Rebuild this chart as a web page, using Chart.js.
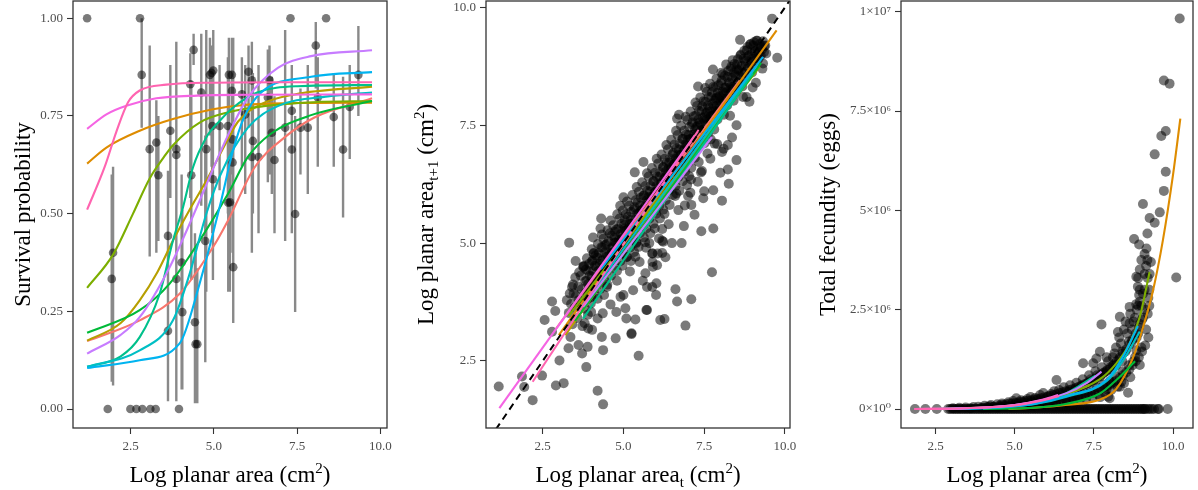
<!DOCTYPE html>
<html>
<head>
<meta charset="utf-8">
<script src="https://cdn.jsdelivr.net/npm/chart.js@4.4.1/dist/chart.umd.min.js"></script>
<style>
  html, body { margin: 0; padding: 0; background: #fff; }
  #wrap { position: relative; width: 1198px; height: 490px; }
  canvas { position: absolute; top: 0; }
</style>
</head>
<body>
<div id="wrap">
  <canvas id="survChart" width="400" height="490" style="left:0"></canvas>
  <canvas id="growChart" width="400" height="490" style="left:400px"></canvas>
  <canvas id="fecChart" width="398" height="490" style="left:800px"></canvas>
</div>
<script>
// ---- data ----

// panel 1: survival, [log area, proportion surviving, lower, upper]
const survPts = [
  [1.19,1.0,1.0,1.0],[2.78,1.0,1.0,1.0],[2.83,0.855,0.72,1.0],[7.3,1.0,1.0,1.0],[8.37,1.0,1.0,1.0],
  [1.81,0,0,0],[2.49,0,0,0],[2.67,0,0,0],[2.85,0,0,0],[3.09,0,0,0],[3.25,0,0,0],[3.95,0,0,0],
  [1.97,0.40,0.06,0.62],[1.93,0.333,0.07,0.6],[3.07,0.665,0.39,0.93],[3.27,0.682,0.40,0.79],
  [3.33,0.598,0.43,0.75],[3.69,0.712,0.54,0.88],[3.62,0.443,0.02,0.61],[3.62,0.20,0.03,0.45],
  [3.87,0.665,0.35,0.94],[3.87,0.65,0.4,0.9],[3.87,0.333,0.02,0.55],[4.03,0.375,0.05,0.6],
  [4.05,0.248,0.05,0.51],[4.29,0.831,0.54,0.91],[4.39,0.919,0.88,0.96],[4.32,0.598,0.33,0.84],
  [4.43,0.222,0.015,0.45],[4.45,0.166,0.015,0.40],[4.50,0.166,0.015,0.36],[4.62,0.81,0.52,0.96],
  [4.77,0.665,0.30,0.97],[4.74,0.43,0.12,0.7],[4.88,0.855,0.7,0.95],[4.93,0.86,0.62,0.93],
  [4.98,0.866,0.72,0.97],[4.95,0.724,0.45,0.9],[4.97,0.588,0.33,0.8],[5.17,0.724,0.56,0.88],
  [5.42,0.724,0.5,0.9],[5.45,0.855,0.62,0.95],[5.58,0.363,0.22,0.95],[5.43,0.528,0.3,0.75],
  [5.54,0.855,0.67,0.95],[5.54,0.814,0.6,0.93],[5.56,0.69,0.45,0.85],[5.56,0.631,0.4,0.82],
  [5.48,0.529,0.3,0.7],[5.84,0.805,0.62,0.9],[5.94,0.754,0.55,0.88],[6.04,0.863,0.72,0.93],
  [6.14,0.841,0.58,0.94],[6.17,0.686,0.5,0.86],[6.14,0.645,0.4,0.85],[6.34,0.645,0.45,0.88],
  [6.62,0.797,0.58,0.92],[6.67,0.842,0.6,0.93],[6.74,0.707,0.55,0.85],[6.82,0.637,0.45,0.8],
  [7.14,0.72,0.43,0.97],[7.34,0.763,0.5,0.88],[7.34,0.664,0.45,0.85],[7.44,0.499,0.248,0.75],
  [7.6,0.72,0.6,0.82],[7.82,0.72,0.55,0.88],[8.06,0.93,0.82,0.99],[8.12,0.797,0.62,0.9],
  [8.6,0.747,0.62,0.86],[8.88,0.664,0.49,0.85],[9.08,0.773,0.64,0.88],[9.34,0.855,0.75,0.98]
];

// fitted survival curves, one per group
const survGroups = ['salmon','orange','olive','ygreen','green','teal','cyan','sky','purple','magenta','pink'];
const survCurves = [
  [[1.19,0.174],[2.77,0.227],[3.97,0.295],[4.97,0.414],[5.42,0.482],[6.22,0.618],[7.12,0.695],[8.02,0.746],[9.75,0.795]],
  [[1.19,0.628],[1.77,0.669],[2.77,0.712],[3.77,0.742],[4.97,0.767],[5.9,0.778],[7.5,0.783],[9.75,0.784]],
  [[1.19,0.175],[2.2,0.22],[2.77,0.278],[3.3,0.35],[3.77,0.431],[4.27,0.51],[4.77,0.584],[5.42,0.69],[5.72,0.735],[6.42,0.78],[7.42,0.805],[9.75,0.825]],
  [[1.19,0.31],[1.97,0.395],[2.57,0.5],[3.07,0.59],[3.5,0.645],[3.77,0.675],[4.57,0.733],[5.47,0.76],[6.5,0.775],[8,0.785],[9.75,0.788]],
  [[1.19,0.195],[2.77,0.253],[3.67,0.321],[4.57,0.431],[5.42,0.55],[6.02,0.645],[6.72,0.705],[7.92,0.752],[9.75,0.788]],
  [[1.19,0.108],[2.2,0.135],[2.77,0.184],[3.37,0.295],[3.77,0.431],[4.07,0.516],[4.37,0.618],[4.77,0.695],[5.17,0.737],[5.57,0.771],[6.3,0.81],[7.5,0.826],[9.75,0.829]],
  [[1.19,0.108],[2.77,0.15],[3.77,0.227],[4.27,0.346],[4.77,0.499],[5.2,0.6],[6.02,0.72],[6.92,0.775],[8.42,0.8],[9.75,0.81]],
  [[1.19,0.105],[2.77,0.125],[3.97,0.168],[4.57,0.321],[5.17,0.516],[5.57,0.66],[5.9,0.745],[6.42,0.81],[7.92,0.85],[9.75,0.862]],
  [[1.19,0.142],[2.2,0.19],[2.77,0.235],[3.67,0.363],[4.57,0.533],[5.0,0.62],[5.42,0.7],[6.02,0.797],[6.92,0.873],[7.92,0.903],[9.75,0.918]],
  [[1.19,0.717],[1.77,0.754],[2.37,0.776],[3.27,0.795],[4.5,0.802],[6,0.804],[9.75,0.805]],
  [[1.19,0.51],[1.72,0.62],[2.07,0.71],[2.42,0.785],[2.77,0.815],[3.57,0.83],[5,0.835],[7,0.836],[9.75,0.836]]
];

// panel 2: growth, [log area t, log area t+1]
const growSparse = [
  [1.14,1.96],[1.86,2.17],[1.93,1.95],[2.19,1.67],[2.48,2.19],[2.56,3.37],[2.79,3.12],[2.79,3.76],[2.89,3.56],
  [2.91,1.98],[3.15,2.03],[3.02,2.51],[3.25,3.79],[3.30,2.77],[3.36,3.01],[3.41,4.07],[3.46,3.93],[3.61,2.84],
  [3.72,2.66],[3.75,4.5],[3.85,2.37],[3.89,2.80],[3.91,3.19],[4.03,3.16],[4.0,3.54],[4.08,4.78],[4.2,1.87],
  [4.33,3.01],[4.37,1.58],[4.37,2.73],[4.36,3.51],[4.49,4.07],[4.76,2.98],[4.78,3.54],[4.91,3.86],[5.09,3.4],
  [5.06,3.62],[5.25,3.07],[5.37,3.38],[5.47,2.61],[5.73,3.58],[5.89,4.07],[6.01,3.9],[5.91,4.5],[6.04,4.53],
  [6.14,3.37],[6.27,3.39],[6.06,4.78],[6.23,5.03],[6.61,4.02],[6.66,3.76],[6.92,3.25],[7.1,3.81],[7.74,4.38],
  [5.73,4.07],[5.68,4.36],[6.02,4.15],[5.35,6.5],[3.32,5.01],[4.06,5.12],[3.77,4.5],[5.0,5.97],[5.25,3.09],
  [5.9,4.78],[5.71,3.58],[9.6,9.76],[9.76,8.93],[9.32,8.81],[8.81,8.1],[7.77,8.68],[8.36,7.24],[8.23,7.08],
  [8.05,6.93],[7.82,7.11],[7.69,6.79],[8.5,6.76],[8.0,6.49],[8.23,6.56],[8.26,6.26],[7.43,6.53],[7.09,6.35],
  [7.78,6.12],[7.47,5.95],[8.05,5.9],[7.1,5.81],[6.87,5.36],[7.41,5.25],[7.78,5.31],[6.2,5.05],[6.2,4.79],
  [5.89,4.78],[7.07,6.07],[6.97,6.23],[6.64,6.05],[4.29,5.31],[6.66,7.64],[3.52,4.62],[4.31,5.52],[5.62,6.72],
  [6.72,7.72],[7.31,8.32],[8.61,9.31]
];
const growHalo = [
  [4.6,3.7],[4.8,4.2],[5.0,3.9],[5.2,4.4],[5.3,4.0],[5.5,4.6],[5.6,4.2],[5.8,5.0],[5.9,4.6],[6.1,5.1],
  [6.3,4.7],[6.4,5.4],[6.5,5.0],[6.7,5.7],[6.8,5.0],[7.0,6.0],[7.2,5.6],[7.3,6.3],[7.5,6.1],[7.6,6.9],
  [7.9,7.1],[8.1,7.0],[8.3,7.7],[8.5,7.5],[8.7,8.1],[8.9,8.0],[9.1,8.4],[9.3,8.7],[9.0,8.3],[4.4,3.9],
  [4.2,3.4],[4.0,3.85],[3.8,3.3],[5.1,4.7],[5.4,5.0],[5.7,4.9],[6.0,5.7],[6.2,5.3],[6.6,6.0],[6.9,5.8],
  [7.1,6.6],[7.4,6.5],[7.7,7.2]
];
const growBand = [
  [3.31,3.52],[3.34,3.93],[3.42,3.28],[3.38,3.71],[3.44,4.12],[3.49,3.63],[3.53,3.88],[3.51,4.27],
  [3.58,3.41],[3.62,3.79],[3.6,4.08],[3.63,4.38],[3.69,3.72],[3.71,4.02],[3.68,4.31],[3.73,3.24],
  [3.79,3.92],[3.82,4.19],[3.78,4.52],[3.81,3.61],[3.88,3.81],[3.91,4.13],[3.92,4.41],[3.87,4.68],[3.9,3.48],
  [3.98,4.02],[4.01,4.29],[4.03,4.61],[3.99,3.72],[4.02,4.87],[4.09,4.18],[4.12,4.52],[4.08,4.79],[4.11,3.91],[4.1,4.04],
  [4.19,4.12],[4.22,4.41],[4.18,4.69],[4.21,4.98],[4.2,3.82],[4.29,4.32],[4.32,4.62],[4.31,4.91],[4.28,4.03],[4.33,5.18],
  [4.39,4.49],[4.42,4.79],[4.38,5.09],[4.41,4.21],[4.4,4.38],[4.49,4.41],[4.52,4.72],[4.48,4.98],[4.51,5.27],[4.5,4.12],[4.53,4.6],
  [4.59,4.62],[4.62,4.88],[4.58,5.21],[4.61,4.31],[4.6,5.48],[4.63,4.79],[4.69,4.81],[4.72,5.12],[4.68,5.38],[4.71,4.52],[4.7,4.69],[4.73,5.02],
  [4.79,4.72],[4.82,5.01],[4.78,5.29],[4.81,5.61],[4.8,4.41],[4.83,4.91],[4.89,4.88],[4.92,5.19],[4.88,5.52],[4.91,4.62],[4.9,5.79],[4.93,5.08],
  [4.99,5.11],[5.02,5.38],[4.98,5.69],[5.01,4.79],[5.0,5.02],[5.03,5.31],[4.97,4.52],
  [5.09,5.02],[5.12,5.29],[5.08,5.61],[5.11,5.88],[5.1,4.71],[5.13,5.19],
  [5.19,5.21],[5.22,5.49],[5.18,5.79],[5.21,4.91],[5.2,5.41],[5.23,4.62],[5.17,5.12],
  [5.29,5.38],[5.32,5.71],[5.28,6.02],[5.31,5.09],[5.3,5.29],[5.33,4.81],
  [5.39,5.31],[5.42,5.62],[5.38,5.91],[5.41,6.19],[5.4,5.02],[5.43,5.48],[5.37,4.71],
  [5.49,5.52],[5.52,5.79],[5.48,6.09],[5.51,5.21],[5.5,5.41],[5.53,5.68],[5.47,4.92],
  [5.59,5.71],[5.62,6.01],[5.58,6.29],[5.61,5.38],[5.6,5.62],[5.63,5.12],
  [5.69,5.62],[5.72,5.91],[5.68,6.21],[5.71,5.31],[5.7,5.79],[5.73,6.48],[5.67,5.02],
  [5.79,5.81],[5.82,6.09],[5.78,6.41],[5.81,5.52],[5.8,5.98],[5.83,5.21],
  [5.89,5.98],[5.92,6.31],[5.88,6.59],[5.91,5.69],[5.9,5.91],[5.93,5.41],
  [5.99,5.91],[6.02,6.21],[5.98,6.49],[6.01,5.62],[6.0,6.09],[6.03,6.79],[5.97,5.31],
  [6.09,6.12],[6.12,6.41],[6.08,6.69],[6.11,5.79],[6.1,6.02],[6.13,5.52],
  [6.19,6.29],[6.22,6.61],[6.18,6.88],[6.21,6.01],[6.2,6.19],[6.23,5.71],
  [6.29,6.21],[6.32,6.52],[6.28,6.79],[6.31,5.91],[6.3,6.41],[6.33,7.08],[6.27,5.62],
  [6.39,6.42],[6.42,6.71],[6.38,6.99],[6.41,6.12],[6.4,6.59],[6.43,5.81],
  [6.49,6.61],[6.52,6.88],[6.48,7.19],[6.51,6.29],[6.5,6.52],[6.53,6.02],
  [6.59,6.51],[6.62,6.79],[6.58,7.09],[6.61,6.21],[6.6,6.69],[6.63,7.38],
  [6.69,6.72],[6.72,6.98],[6.68,7.29],[6.71,6.41],[6.7,6.88],[6.73,6.11],
  [6.79,6.88],[6.82,7.21],[6.78,7.49],[6.81,6.62],[6.8,6.79],[6.83,6.31],
  [6.89,6.81],[6.92,7.09],[6.88,7.38],[6.91,6.52],[6.9,7.01],[6.93,7.68],
  [6.99,7.02],[7.02,7.29],[6.98,7.61],[7.01,6.71],[7.0,7.19],[7.03,6.42],
  [7.09,7.21],[7.12,7.52],[7.08,7.79],[7.11,6.89],[7.1,7.08],
  [7.19,7.12],[7.22,7.41],[7.18,7.69],[7.21,6.81],[7.2,7.32],[7.23,7.98],
  [7.29,7.31],[7.32,7.62],[7.28,7.91],[7.31,7.02],[7.3,7.49],[7.33,6.72],
  [7.39,7.52],[7.42,7.81],[7.38,8.09],[7.41,7.21],[7.4,7.39],
  [7.49,7.41],[7.52,7.69],[7.48,8.01],[7.51,7.12],[7.5,7.61],[7.53,8.29],
  [7.59,7.62],[7.62,7.92],[7.58,8.21],[7.61,7.31],[7.6,7.79],
  [7.69,7.79],[7.72,8.11],[7.68,8.38],[7.71,7.52],[7.7,7.69],
  [7.79,7.72],[7.82,8.02],[7.78,8.31],[7.81,7.41],[7.8,7.91],
  [7.89,7.91],[7.92,8.19],[7.88,8.49],[7.91,7.62],[7.9,8.09],
  [7.99,8.12],[8.02,8.39],[7.98,7.81],[8.01,8.01],[8.03,8.61],
  [8.09,8.02],[8.12,8.29],[8.08,8.58],[8.11,7.72],[8.1,8.19],
  [8.19,8.21],[8.22,8.52],[8.18,8.79],[8.21,7.92],[8.29,8.39],[8.32,8.69],[8.28,8.12],[8.31,8.31],
  [8.39,8.31],[8.42,8.61],[8.38,8.88],[8.41,8.02],[8.49,8.52],[8.52,8.79],[8.48,8.21],[8.51,8.69],
  [8.59,8.69],[8.62,8.98],[8.58,8.41],[8.69,8.61],[8.72,8.91],[8.68,8.32],
  [8.79,8.81],[8.82,9.09],[8.78,8.52],[8.89,8.98],[8.92,9.21],[8.88,8.71],
  [8.99,8.91],[9.02,9.19],[8.98,8.62],[9.09,9.08],[9.12,9.29],[9.08,8.81],
  [9.19,9.02],[9.22,9.22],[9.18,8.91],[9.29,9.11],[9.32,9.28],[9.39,9.19],[9.42,9.02]
];
// the darkest core of the cloud
const growCore = [
  [3.85,3.96],[3.86,4.2],[3.84,4.44],[3.95,4.05],[3.96,4.31],[3.94,4.56],[4.05,4.14],[4.06,4.41],[4.04,4.63],
  [4.15,4.26],[4.16,4.5],[4.14,4.74],[4.25,4.3],[4.26,4.56],[4.24,4.79],[4.35,4.41],[4.36,4.64],[4.34,4.9],
  [4.45,4.44],[4.46,4.71],[4.44,4.96],[4.55,4.56],[4.56,4.79],[4.54,5.04],[4.65,4.64],[4.66,4.91],[4.64,5.16],
  [4.75,4.76],[4.76,5.01],[4.74,5.24],[4.85,4.8],[4.86,5.06],[4.84,5.31],[4.95,4.9],[4.96,5.14],[4.94,5.41],
  [5.05,5.01],[5.06,5.26],[5.04,5.49],[5.15,5.06],[5.16,5.31],[5.14,5.56],[5.25,5.14],[5.26,5.41],[5.24,5.66],
  [5.35,5.26],[5.36,5.49],[5.34,5.76],[5.45,5.34],[5.46,5.61],[5.44,5.86],[5.55,5.46],[5.56,5.69],[5.54,5.96],
  [5.65,5.5],[5.66,5.76],[5.64,6.01],[5.75,5.6],[5.76,5.86],[5.74,6.11],[5.85,5.7],[5.86,5.94],[5.84,6.21],
  [5.95,5.8],[5.96,6.06],[5.94,6.31],[6.05,5.9],[6.06,6.14],[6.04,6.41],[6.15,6.0],[6.16,6.26],[6.14,6.5],
  [6.25,6.1],[6.26,6.36],[6.24,6.61],[6.35,6.2],[6.36,6.44],[6.34,6.71],[6.45,6.3],[6.46,6.56],[6.44,6.8],
  [6.55,6.4],[6.56,6.66],[6.54,6.91],[6.65,6.5],[6.66,6.74],[6.64,7.01],[6.75,6.6],[6.76,6.86],[6.74,7.1],
  [6.85,6.7],[6.86,6.96],[6.84,7.21],[6.95,6.8],[6.96,7.06],[6.94,7.3],[7.05,6.95],[7.06,7.21],[7.04,7.46],
  [7.15,7.06],[7.16,7.3],[7.14,7.56],[7.25,7.2],[7.26,7.46],[7.24,7.7],[7.35,7.3],[7.36,7.56],[7.34,7.8],
  [7.45,7.4],[7.46,7.66],[7.44,7.9],[7.55,7.5],[7.56,7.76],[7.54,8.0],[7.65,7.6],[7.66,7.86],[7.64,8.1],
  [7.75,7.7],[7.76,7.96],[7.74,8.2],[7.85,7.8],[7.86,8.06],[7.84,8.3],[7.95,7.86],[7.96,8.11],[7.94,8.35],
  [8.05,7.95],[8.06,8.21],[8.04,8.45],[8.15,8.06],[8.16,8.3],[8.14,8.55],[8.25,8.15],[8.26,8.41],[8.24,8.65],
  [8.35,8.26],[8.36,8.5],[8.34,8.74],[8.45,8.3],[8.46,8.56],[8.44,8.8],[8.55,8.4],[8.56,8.66],[8.54,8.9],
  [8.65,8.5],[8.66,8.76],[8.64,9.0],[8.75,8.6],[8.76,8.86],[8.74,9.08],[8.85,8.72],[8.86,8.96],[8.84,9.16],
  [8.95,8.8],[8.96,9.01],[8.94,9.22],[9.05,8.86],[9.06,9.06],[9.04,9.26],[9.15,8.92],[9.16,9.11],[9.14,9.29],
  [9.25,8.98],[9.26,9.16],[9.35,9.05],[9.36,9.18]
];

// fitted growth lines, [start, end] per group
const growGroups = ['salmon','orange','olive','ygreen','green','teal','cyan','sky','purple','magenta','pink'];
const growLines = [
  [[2.92,3.19],[8.6,8.45]],
  [[3.0,3.05],[9.74,9.51]],
  [[3.2,3.05],[8.9,8.55]],
  [[3.3,3.45],[9.22,8.74]],
  [[3.5,3.35],[9.26,8.82]],
  [[3.75,3.4],[9.0,8.6]],
  [[3.6,3.55],[9.1,8.75]],
  [[4.3,4.45],[9.32,8.95]],
  [[3.75,3.65],[7.74,7.25]],
  [[1.16,1.5],[7.2,7.28]],
  [[2.19,2.06],[7.33,7.4]]
];
const growIdentity = [[1.05,1.05],[10.2,10.2]];

// panel 3: fecundity, [log area, eggs in millions]
const fecZero = [1.85,2.18,2.54,2.9,2.96,3.02,3.08,3.13,3.19,3.24,3.3,3.35,3.41,3.46,3.52,3.57,3.63,3.68,
  3.74,3.79,3.85,3.9,3.96,4.01,4.07,4.12,4.18,4.23,4.29,4.34,4.4,4.45,4.51,4.56,4.62,4.67,4.73,4.78,4.84,
  4.89,4.95,5.0,5.06,5.11,5.17,5.22,5.28,5.33,5.39,5.44,5.5,5.55,5.61,5.66,5.72,5.77,5.83,5.88,5.94,5.99,
  6.05,6.1,6.16,6.21,6.27,6.32,6.38,6.43,6.49,6.54,6.6,6.65,6.71,6.76,6.82,6.87,6.93,6.98,7.04,7.09,7.15,
  7.2,7.26,7.31,7.37,7.42,7.48,7.53,7.59,7.64,7.7,7.75,7.81,7.86,7.92,7.97,8.03,8.08,8.14,8.19,8.25,8.3,
  8.36,8.41,8.47,8.52,8.58,8.63,8.69,8.74,8.8,8.85,8.91,8.96,9.02,9.05,9.1,9.12,9.2,9.26,9.33,9.4,9.52,
  9.55,9.83];
const fecCloud = [
  [3.05,0.02],[3.25,0.03],[3.45,0.04],[3.6,0.02],[3.7,0.05],[3.85,0.06],[3.95,0.03],[4.05,0.08],[4.15,0.05],
  [4.25,0.1],[4.35,0.06],[4.45,0.12],[4.5,0.04],[4.6,0.14],[4.7,0.08],[4.8,0.17],[4.85,0.05],[4.95,0.2],
  [5.0,0.1],[5.05,0.27],[5.1,0.13],[5.2,0.22],[5.25,0.07],[5.3,0.16],[5.4,0.25],[5.45,0.1],[5.5,0.3],
  [5.55,0.19],[5.6,0.08],[5.65,0.28],[5.7,0.14],[5.75,0.22],[5.8,0.35],[5.85,0.11],[5.9,0.4],[5.95,0.25],
  [6.0,0.17],[6.05,0.32],[6.1,0.12],[6.15,0.38],[6.2,0.22],[6.25,0.45],[6.3,0.15],[6.35,0.3],[6.4,0.48],
  [6.45,0.2],[6.5,0.36],[6.55,0.55],[6.6,0.26],[6.65,0.14],[6.7,0.44],[6.75,0.6],[6.8,0.3],[6.85,0.18],
  [6.9,0.5],[6.95,0.66],[7.0,0.35],[7.05,0.22],[7.1,0.58],[7.15,0.75],[7.2,0.42],[7.25,0.26],[7.3,0.65],
  [7.35,0.85],[7.4,0.48],[7.45,0.3],[7.5,0.72],[7.55,0.95],[7.6,0.55],[7.65,0.36],[7.7,0.82],[7.75,1.05],
  [7.8,0.62],[7.85,0.4],[7.9,0.95],[7.95,1.2],[8.0,0.7],[8.05,0.48],[8.1,1.08],[8.15,1.4],[8.2,0.82],
  [8.25,0.56],[8.3,1.25],[8.35,1.65],[8.4,0.95],[8.45,0.65],[8.5,1.45],[8.55,1.9],[8.6,1.1],[8.65,0.8],
  [8.7,1.7],[8.75,2.2],[8.8,1.3],[8.85,2.5],[8.9,1.9],[8.95,2.7],[9.0,1.55],[9.05,2.3],[9.1,3.0],[9.15,2.0],
  [9.2,3.3],[9.25,2.6],
  [8.1,1.3],[8.2,1.55],[8.3,1.8],[8.4,1.45],[8.45,2.0],[8.5,2.2],[8.6,1.7],[8.65,2.4],[8.7,2.0],[8.8,2.3],
  [8.85,1.8],[8.9,2.6],[8.95,3.0],[9.0,2.6],[9.05,2.9],[9.1,3.4],[9.15,3.6],[9.2,2.4],[9.25,3.0],[9.3,3.7],
  [8.9,3.3],[9.1,3.9],[8.0,1.0],[7.9,1.3],[7.8,0.9],[7.6,0.85],[7.4,0.75],[8.2,1.1],[8.4,1.2],
  [4.02,0.03],[4.12,0.04],[4.22,0.03],[4.22,0.07],[4.32,0.05],[4.42,0.04],[4.52,0.05],[4.52,0.09],
  [4.62,0.06],[4.62,0.11],[4.72,0.05],[4.72,0.12],[4.82,0.07],[4.82,0.13],[4.92,0.06],[4.92,0.14],
  [5.02,0.07],[5.02,0.15],[5.12,0.08],[5.12,0.17],[5.22,0.09],[5.22,0.18],[5.32,0.1],[5.32,0.2],
  [5.42,0.09],[5.42,0.21],[5.52,0.11],[5.52,0.22],[5.62,0.12],[5.62,0.24],[5.72,0.11],[5.72,0.25],
  [5.82,0.13],[5.82,0.27],[5.92,0.14],[5.92,0.29],[6.02,0.15],[6.02,0.3],[6.12,0.16],[6.12,0.33],
  [6.22,0.17],[6.22,0.35],[6.32,0.19],[6.32,0.37],[6.42,0.2],[6.42,0.4],[6.52,0.22],[6.52,0.42],
  [6.62,0.23],[6.62,0.45],[6.72,0.25],[6.72,0.48],[6.82,0.27],[6.82,0.5],[6.92,0.29],[6.92,0.53],
  [7.02,0.3],[7.02,0.56],[7.12,0.33],[7.12,0.6],[7.22,0.35],[7.22,0.63],[7.32,0.38],[7.32,0.67],
  [7.42,0.4],[7.42,0.7],[7.52,0.43],[7.52,0.75],[7.62,0.46],[7.62,0.8],[7.72,0.5],[7.72,0.86],
  [7.82,0.54],[7.82,0.92],[7.92,0.58],[7.92,0.98],[8.02,0.62],[8.02,1.05],[8.12,0.68],[8.12,1.12],
  [8.22,0.72],[8.22,1.2],[8.32,0.78],[8.32,1.3],[8.42,0.85],[8.42,1.4],[8.52,0.92],[8.52,1.5],
  [8.62,1.0],[8.62,1.62],[8.72,1.1],[8.72,1.75],[8.82,1.2],[8.82,1.9],[8.92,1.3],[8.92,2.05],
  [9.02,1.45],[9.02,2.25],[9.12,1.6],[9.12,2.5],[9.22,1.8],[9.22,2.8]
];
const fecSparse = [
  [10.21,9.83],[9.71,8.27],[9.89,8.19],[9.77,7.0],[9.63,6.87],[9.42,6.41],[9.77,5.97],[9.71,5.49],[9.05,5.16],
  [9.58,4.95],[9.26,4.81],[9.42,4.69],[9.19,4.42],[8.77,4.28],[8.93,4.14],[9.16,4.04],[9.19,3.75],[9.0,3.75],
  [8.95,3.51],[9.26,3.40],[8.84,3.33],[10.1,3.31],[8.89,3.08],[8.93,2.87],[8.84,2.64],[8.63,2.57],[8.32,2.32],
  [7.74,2.13],[8.95,2.14],[8.26,1.94],[8.63,2.16],[8.84,1.48],[8.95,1.11],[8.74,1.19],[8.37,0.69],[8.58,0.41],
  [8.05,0.65],[7.69,1.44],[7.58,1.27],[7.48,1.15],[7.16,1.15],[6.32,0.73],[8.0,0.27],[8.32,0.56],[7.9,0.5],
  [7.95,0.31],[7.7,0.3]
];

// fitted fecundity curves
const fecGroups = ['salmon','orange','ygreen','green','teal','cyan','sky','purple','magenta','pink'];
const fecCurves = [
  [[2.5,0.0],[5.0,0.08],[6.5,0.32],[7.35,0.6]],
  [[4.8,0.0],[5.6,0.03],[6.6,0.1],[7.7,0.24],[8.2,0.5],[8.74,1.3],[9.05,2.05],[9.37,2.99],[9.68,4.25],[10.0,5.9],[10.23,7.31]],
  [[3.0,0.01],[4.5,0.06],[5.6,0.17],[6.64,0.38],[7.69,0.75],[8.21,1.15],[8.63,1.65],[8.95,2.32],[9.26,3.45]],
  [[4.0,0.0],[5.6,0.03],[6.64,0.13],[7.69,0.39],[8.21,0.73],[8.8,1.2]],
  [[2.5,0.0],[5.0,0.09],[6.5,0.35],[7.55,0.84]],
  [[3.0,0.0],[4.5,0.04],[5.6,0.12],[6.64,0.31],[7.9,0.7],[8.42,1.22],[8.95,1.95]],
  [[3.0,0.0],[4.5,0.04],[5.6,0.13],[6.64,0.33],[7.9,0.73],[8.42,1.32],[8.89,2.09]],
  [[2.5,0.0],[5.0,0.1],[6.64,0.4],[7.27,0.65],[7.74,0.94]],
  [[1.83,0.0],[3.5,0.02],[5.0,0.1],[5.8,0.22],[6.37,0.35]],
  [[1.83,0.0],[3.5,0.02],[5.0,0.09],[5.8,0.2],[6.4,0.33]]
];

// tick values and labels
const areaTicks = [2.5, 5, 7.5, 10];
const areaTickLabels = ['2.5', '5.0', '7.5', '10.0'];
const survTicks = [0, 0.25, 0.5, 0.75, 1];
const survTickLabels = ['0.00', '0.25', '0.50', '0.75', '1.00'];
const growTicks = [2.5, 5, 7.5, 10];
const growTickLabels = ['2.5', '5.0', '7.5', '10.0'];
const fecTicks = [0, 2.5, 5, 7.5, 10];
const fecTickLabels = ['0\u00d710\u2070', '2.5\u00d710\u2076', '5\u00d710\u2076', '7.5\u00d710\u2076', '1\u00d710\u2077'];

// ---- styling ----
const FONT = '"Liberation Serif", "DejaVu Serif", serif';
const hue = {
  salmon: '#F8766D', orange: '#DE8C00', olive: '#B79F00', ygreen: '#7CAE00', green: '#00BA38',
  teal: '#00C08B', cyan: '#00BFC4', sky: '#00B4F0', purple: '#C77CFF', magenta: '#F564E3', pink: '#FF64B0'
};
const dotColor = 'rgba(0,0,0,0.52)';

const toXY = pts => pts.map(p => ({ x: p[0], y: p[1] }));

// draw text with sub/superscript parts
function drawRich(ctx, parts, size, cx, cy, rotate) {
  const fontFor = k => (k ? Math.round(size * 0.66) : size) + 'px ' + FONT;
  ctx.save();
  ctx.translate(cx, cy);
  if (rotate) ctx.rotate(-Math.PI / 2);
  let w = 0;
  parts.forEach(([t, k]) => { ctx.font = fontFor(k); w += ctx.measureText(t).width; });
  let x = -w / 2;
  ctx.textBaseline = 'alphabetic';
  ctx.textAlign = 'left';
  ctx.fillStyle = '#000';
  parts.forEach(([t, k]) => {
    ctx.font = fontFor(k);
    const dy = k === 'sup' ? -size * 0.4 : (k === 'sub' ? size * 0.2 : 0);
    ctx.fillText(t, x, dy);
    x += ctx.measureText(t).width;
  });
  ctx.restore();
}

const deco = {
  id: 'deco',
  afterDatasetsDraw(chart) {
    const { ctx, chartArea: a } = chart;
    ctx.save();
    ctx.strokeStyle = '#333';
    ctx.lineWidth = 1.3;
    ctx.strokeRect(a.left, a.top, a.right - a.left, a.bottom - a.top);
    ctx.restore();
  },
  afterDraw(chart, args, opts) {
    const { ctx, chartArea: a } = chart;
    drawRich(ctx, opts.xTitle, 23, (a.left + a.right) / 2, 482, false);
    drawRich(ctx, opts.yTitle, 23, opts.yTitleX, (a.top + a.bottom) / 2, true);
  }
};

function axis(min, max, ticks, labels, isY, size) {
  return {
    type: 'linear', min: min, max: max,
    afterBuildTicks: s => { s.ticks = ticks.map(v => ({ value: v })); },
    afterFit: s => {
      if (isY) s.width = size; else s.height = size;
      s.paddingTop = 0; s.paddingBottom = 0; s.paddingLeft = 0; s.paddingRight = 0;
    },
    grid: { drawOnChartArea: false, drawTicks: true, tickLength: 6, tickColor: '#333', tickWidth: 1.1 },
    border: { display: false },
    ticks: {
      color: '#4d4d4d', font: { family: FONT, size: 13 }, padding: isY ? 4 : 5,
      maxRotation: 0, autoSkip: false, callback: (v, i) => labels[i]
    }
  };
}

function baseOptions(scales, padRight, decoOpts) {
  return {
    responsive: false, animation: false, events: [],
    layout: { autoPadding: false, padding: { left: 0, right: padRight, top: 1, bottom: 0 } },
    plugins: { legend: { display: false }, tooltip: { enabled: false }, deco: decoOpts },
    scales: scales
  };
}

function curveSet(data, color, order, smooth) {
  return {
    data: toXY(data), showLine: true, pointRadius: 0, borderColor: color, borderWidth: 2.1,
    cubicInterpolationMode: smooth ? 'monotone' : 'default', tension: 0, order: order
  };
}

// ---- panel 1: survival ----
const errBars = [];
survPts.forEach(p => {
  if (p[3] > p[2]) {
    errBars.push({ x: p[0], y: p[2] }, { x: p[0], y: p[3] }, { x: p[0], y: null });
  }
});
new Chart(document.getElementById('survChart'), {
  type: 'scatter',
  data: {
    datasets: [
      ...survCurves.map((c, i) => curveSet(c, hue[survGroups[i]], 20 - i, true)),
      { data: errBars, showLine: true, spanGaps: false, pointRadius: 0,
        borderColor: 'rgba(40,40,40,0.55)', borderWidth: 2.4, order: 60 },
      { data: toXY(survPts), pointRadius: 4.3, pointBackgroundColor: dotColor, pointBorderWidth: 0, order: 50 }
    ]
  },
  options: baseOptions({
    x: axis(0.766, 10.2, areaTicks, areaTickLabels, false, 62),
    y: axis(-0.0485, 1.044, survTicks, survTickLabels, true, 73)
  }, 13, {
    xTitle: [['Log planar area (cm', ''], ['2', 'sup'], [')', '']],
    yTitle: [['Survival probability', '']],
    yTitleX: 30
  }),
  plugins: [deco]
});

// ---- panel 2: growth ----
new Chart(document.getElementById('growChart'), {
  type: 'scatter',
  data: {
    datasets: [
      { data: toXY(growIdentity), showLine: true, pointRadius: 0, borderColor: '#000', borderWidth: 2,
        borderDash: [7, 5], order: 0 },
      ...growLines.map((c, i) => curveSet(c, hue[growGroups[i]], 20 - i, false)),
      { data: toXY(growSparse.concat(growHalo, growBand, growCore)), pointRadius: 5,
        pointBackgroundColor: dotColor, pointBorderWidth: 0, order: 50 }
    ]
  },
  options: baseOptions({
    x: axis(0.746, 10.155, areaTicks, areaTickLabels, false, 62),
    y: axis(1.079, 10.134, growTicks, growTickLabels, true, 86)
  }, 10, {
    xTitle: [['Log planar area', ''], ['t', 'sub'], [' (cm', ''], ['2', 'sup'], [')', '']],
    yTitle: [['Log planar area', ''], ['t+1', 'sub'], [' (cm', ''], ['2', 'sup'], [')', '']],
    yTitleX: 33
  }),
  plugins: [deco]
});

// ---- panel 3: fecundity ----
new Chart(document.getElementById('fecChart'), {
  type: 'scatter',
  data: {
    datasets: [
      ...fecCurves.map((c, i) => curveSet(c, hue[fecGroups[i]], 20 - i, true)),
      { data: fecZero.map(x => ({ x: x, y: 0 })).concat(toXY(fecCloud), toXY(fecSparse)),
        pointRadius: 5, pointBackgroundColor: dotColor, pointBorderWidth: 0, order: 50 }
    ]
  },
  options: baseOptions({
    x: axis(1.41, 10.63, areaTicks, areaTickLabels, false, 62),
    y: axis(-0.478, 10.27, fecTicks, fecTickLabels, true, 101)
  }, 5, {
    xTitle: [['Log planar area (cm', ''], ['2', 'sup'], [')', '']],
    yTitle: [['Total fecundity (eggs)', '']],
    yTitleX: 35
  }),
  plugins: [deco]
});
</script>
</body>
</html>
